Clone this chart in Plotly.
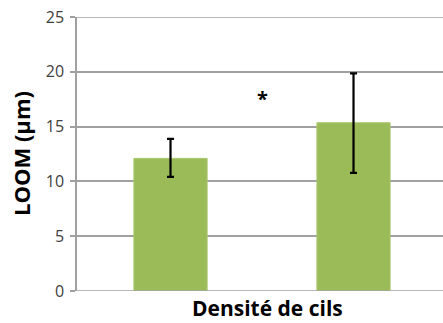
import plotly.graph_objects as go

categories = [0, 1]
values = [12.1, 15.35]
err_plus = [1.78, 4.5]
err_minus = [1.68, 4.58]
y_ticks = [0, 5, 10, 15, 20, 25]
star_pos = (0.5, 17.6)
x_title = "Densité de cils"
y_title = "LOOM (µm)"

fig = go.Figure()
fig.add_trace(go.Bar(
    x=categories, y=values, width=0.4,
    marker=dict(color="#9BBB59", line=dict(color="#A9C76B", width=1)),
    error_y=dict(type="data", symmetric=False, array=err_plus, arrayminus=err_minus,
                 color="#000000", thickness=2.2, width=3.5),
))
fig.add_annotation(x=star_pos[0], y=star_pos[1], text="<b>*</b>", showarrow=False,
                   font=dict(family="Open Sans", size=20, color="#000000"))
fig.add_annotation(x=0.52, y=-0.062, xref="paper", yref="paper", yanchor="middle",
                   text="<b>" + x_title + "</b>", showarrow=False,
                   font=dict(family="Open Sans", size=21, color="#000000"))
fig.add_annotation(x=-0.153, y=0.5, xref="paper", yref="paper", textangle=-90,
                   xanchor="center", yanchor="middle",
                   text="<b>" + y_title + "</b>", showarrow=False,
                   font=dict(family="Open Sans", size=22, color="#000000"))

fig.update_layout(
    width=443, height=323,
    margin=dict(l=77, r=0, t=17, b=32, autoexpand=False),
    paper_bgcolor="white", plot_bgcolor="white",
    showlegend=False,
    font=dict(family="Open Sans", color="#404040"),
    xaxis=dict(range=[-0.511, 1.489], showticklabels=False, ticks="", showgrid=False,
               zeroline=False, showline=False, automargin=False),
    yaxis=dict(range=[0, 25], tickvals=y_ticks, ticks="outside", ticklen=5,
               tickcolor="#A0A0A0", tickwidth=1.5, automargin=False,
               showline=True, linecolor="#A0A0A0", linewidth=1.5,
               showgrid=True, gridcolor="#A0A0A0", gridwidth=1.5,
               zeroline=False, ticklabelstandoff=3, ticklabeloverflow="allow",
               tickfont=dict(family="Open Sans", size=16, color="#404040")),
)
fig.add_hline(y=0, line=dict(color="#A0A0A0", width=1.5))
fig.add_hline(y=25, line=dict(color="#A0A0A0", width=1.5))
fig.write_html("out.html", config={"displayModeBar": False},
               post_script="document.body.style.margin='0';")
